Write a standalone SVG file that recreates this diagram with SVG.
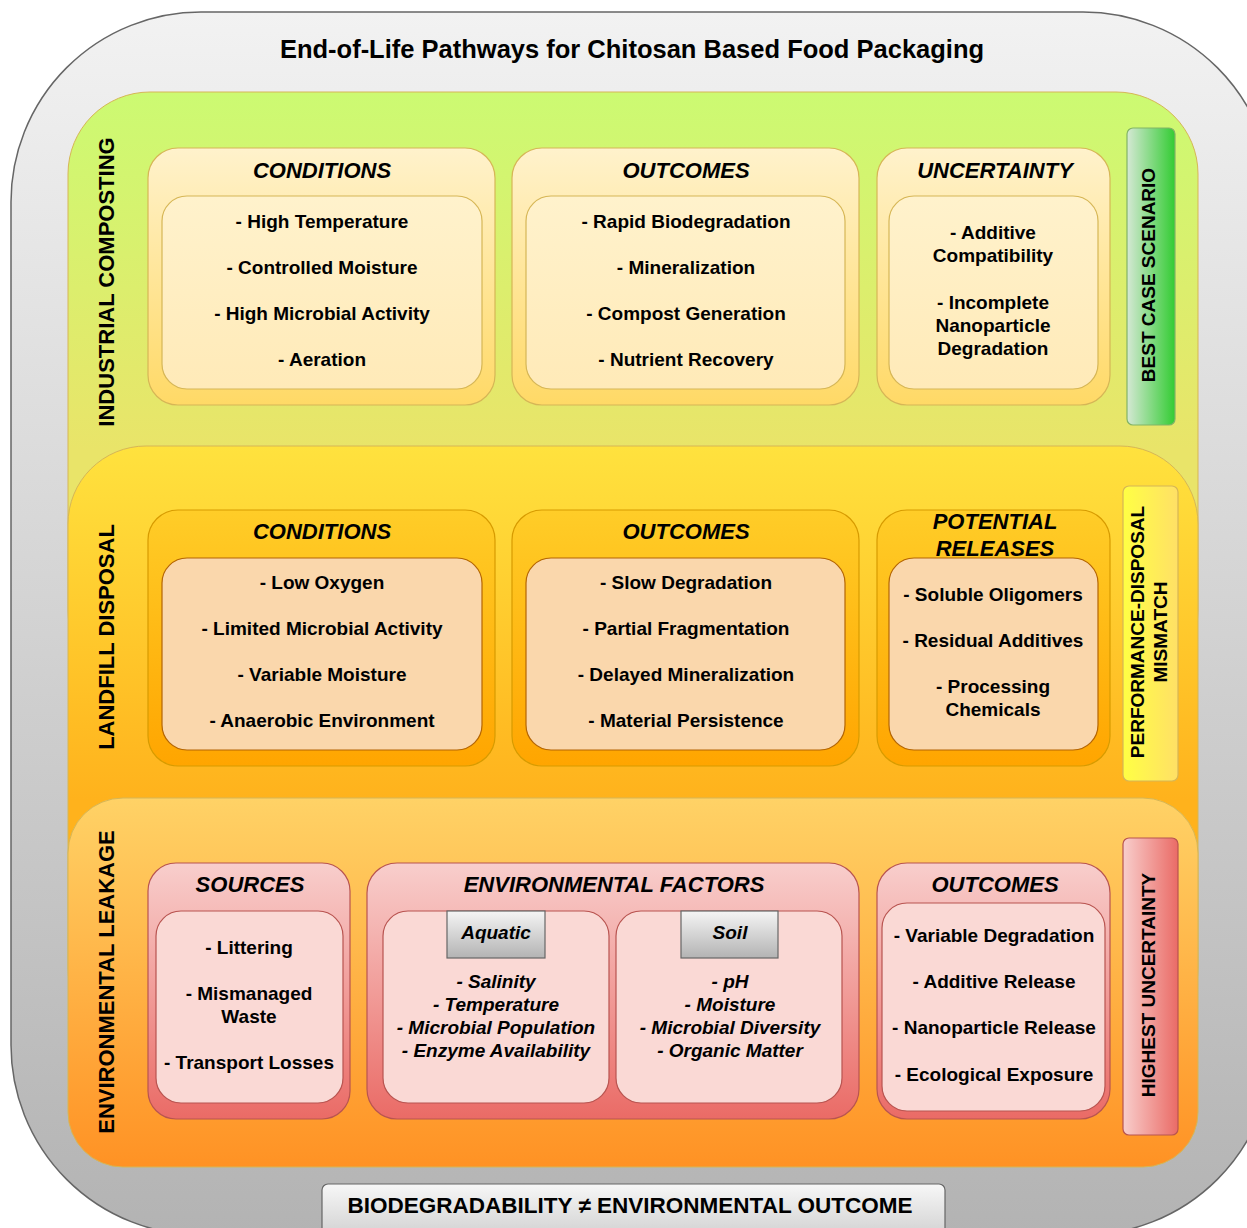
<svg xmlns="http://www.w3.org/2000/svg" width="1247" height="1228" viewBox="0 0 1247 1228">
<defs>
<linearGradient id="gBg" x1="0" y1="0" x2="0" y2="1"><stop offset="0" stop-color="#f2f2f2"/><stop offset="1" stop-color="#b3b3b3"/></linearGradient>
<linearGradient id="gGreen" gradientUnits="userSpaceOnUse" x1="0" y1="92" x2="0" y2="450"><stop offset="0" stop-color="#ccfa72"/><stop offset="1" stop-color="#e9e469"/></linearGradient>
<linearGradient id="gYellow" gradientUnits="userSpaceOnUse" x1="0" y1="446" x2="0" y2="800"><stop offset="0" stop-color="#ffe23e"/><stop offset="1" stop-color="#ffb21c"/></linearGradient>
<linearGradient id="gOrange" x1="0" y1="0" x2="0" y2="1"><stop offset="0" stop-color="#ffd266"/><stop offset="1" stop-color="#ff9224"/></linearGradient>
<linearGradient id="gPanelY" x1="0" y1="0" x2="0" y2="1"><stop offset="0" stop-color="#fff2cc"/><stop offset="1" stop-color="#ffd966"/></linearGradient>
<linearGradient id="gInnerY" x1="0" y1="0" x2="0" y2="1"><stop offset="0" stop-color="#fff2cc"/><stop offset="1" stop-color="#ffeab8"/></linearGradient>
<linearGradient id="gPanelO" x1="0" y1="0" x2="0" y2="1"><stop offset="0" stop-color="#ffcd28"/><stop offset="1" stop-color="#ffa500"/></linearGradient>
<linearGradient id="gPanelR" x1="0" y1="0" x2="0" y2="1"><stop offset="0" stop-color="#f8cecc"/><stop offset="1" stop-color="#ea6b66"/></linearGradient>
<linearGradient id="gGray" x1="0" y1="0" x2="0" y2="1"><stop offset="0" stop-color="#f5f5f5"/><stop offset="1" stop-color="#b3b3b3"/></linearGradient>
<linearGradient id="gBanner" x1="0" y1="0" x2="0" y2="1"><stop offset="0" stop-color="#f7f7f7"/><stop offset="1" stop-color="#cccccc"/></linearGradient>
<linearGradient id="gTabG" x1="0" y1="0" x2="1" y2="0"><stop offset="0" stop-color="#d5e8d4"/><stop offset="1" stop-color="#33cc33"/></linearGradient>
<linearGradient id="gTabY" x1="0" y1="0" x2="1" y2="0"><stop offset="0" stop-color="#ffff44"/><stop offset="1" stop-color="#ffe066"/></linearGradient>
<linearGradient id="gTabR" x1="0" y1="0" x2="1" y2="0"><stop offset="0" stop-color="#f8cecc"/><stop offset="1" stop-color="#ea6b66"/></linearGradient>
</defs>
<style>
text{font-family:"Liberation Sans",Arial,Helvetica,sans-serif;font-weight:bold;fill:#000;text-anchor:middle}
.title{font-size:25.5px}
.side{font-size:22px}
.tab{font-size:19px}
.ph{font-size:22px;font-style:italic}
.it{font-size:19px}
.iti{font-size:19px;font-style:italic}
.band{stroke:#d6b656;stroke-width:1}
.py{fill:url(#gPanelY);stroke:#d6b656;stroke-width:1.2}
.iy{fill:url(#gInnerY);stroke:#d6b656;stroke-width:1.2}
.po{fill:url(#gPanelO);stroke:#d79b00;stroke-width:1.2}
.io{fill:#fad7ac;stroke:#b46504;stroke-width:1.2}
.pr{fill:url(#gPanelR);stroke:#b85450;stroke-width:1.2}
.ir{fill:#fad9d5;stroke:#b85450;stroke-width:1.2}
.gt{fill:url(#gGray);stroke:#666666;stroke-width:1.2}
</style>

<g id="background">
<rect x="11" y="12" width="1262" height="1223" rx="190" ry="190" fill="url(#gBg)" stroke="#666666" stroke-width="1.5"/>
<text class="title" x="632" y="58">End-of-Life Pathways for Chitosan Based Food Packaging</text>
</g>

<g id="band-industrial">
<rect class="band" x="68" y="92" width="1130" height="600" rx="82" ry="82" fill="url(#gGreen)"/>
<text class="side" transform="translate(114,282) rotate(-90)">INDUSTRIAL COMPOSTING</text>
</g>
<g id="band-landfill">
<rect class="band" x="68" y="446" width="1130" height="600" rx="78" ry="78" fill="url(#gYellow)"/>
<text class="side" transform="translate(114,637) rotate(-90)">LANDFILL DISPOSAL</text>
</g>
<g id="band-leakage">
<rect class="band" x="68" y="798" width="1130" height="369" rx="55" ry="55" fill="url(#gOrange)"/>
<text class="side" transform="translate(114,982) rotate(-90)">ENVIRONMENTAL LEAKAGE</text>
</g>

<g id="ic-conditions">
<rect class="py" x="148" y="148" width="347" height="257" rx="30"/>
<rect class="iy" x="162" y="196" width="320" height="193" rx="25"/>
<text class="ph" x="322" y="178">CONDITIONS</text>
<text class="it" x="322" y="228">- High Temperature</text>
<text class="it" x="322" y="274">- Controlled Moisture</text>
<text class="it" x="322" y="320">- High Microbial Activity</text>
<text class="it" x="322" y="366">- Aeration</text>
</g>
<g id="ic-outcomes">
<rect class="py" x="512" y="148" width="347" height="257" rx="30"/>
<rect class="iy" x="526" y="196" width="319" height="193" rx="25"/>
<text class="ph" x="686" y="178">OUTCOMES</text>
<text class="it" x="686" y="228">- Rapid Biodegradation</text>
<text class="it" x="686" y="274">- Mineralization</text>
<text class="it" x="686" y="320">- Compost Generation</text>
<text class="it" x="686" y="366">- Nutrient Recovery</text>
</g>
<g id="ic-uncertainty">
<rect class="py" x="877" y="148" width="233" height="257" rx="30"/>
<rect class="iy" x="889" y="196" width="209" height="193" rx="25"/>
<text class="ph" x="995" y="178">UNCERTAINTY</text>
<text class="it" x="993" y="239">- Additive</text>
<text class="it" x="993" y="262">Compatibility</text>
<text class="it" x="993" y="309">- Incomplete</text>
<text class="it" x="993" y="332">Nanoparticle</text>
<text class="it" x="993" y="355">Degradation</text>
</g>

<g id="lf-conditions">
<rect class="po" x="148" y="510" width="347" height="256" rx="30"/>
<rect class="io" x="162" y="558" width="320" height="192" rx="25"/>
<text class="ph" x="322" y="539">CONDITIONS</text>
<text class="it" x="322" y="589">- Low Oxygen</text>
<text class="it" x="322" y="635">- Limited Microbial Activity</text>
<text class="it" x="322" y="681">- Variable Moisture</text>
<text class="it" x="322" y="727">- Anaerobic Environment</text>
</g>
<g id="lf-outcomes">
<rect class="po" x="512" y="510" width="347" height="256" rx="30"/>
<rect class="io" x="526" y="558" width="319" height="192" rx="25"/>
<text class="ph" x="686" y="539">OUTCOMES</text>
<text class="it" x="686" y="589">- Slow Degradation</text>
<text class="it" x="686" y="635">- Partial Fragmentation</text>
<text class="it" x="686" y="681">- Delayed Mineralization</text>
<text class="it" x="686" y="727">- Material Persistence</text>
</g>
<g id="lf-releases">
<rect class="po" x="877" y="510" width="233" height="256" rx="30"/>
<rect class="io" x="889" y="558" width="209" height="192" rx="25"/>
<text class="ph" x="995" y="529">POTENTIAL</text>
<text class="ph" x="995" y="556">RELEASES</text>
<text class="it" x="993" y="601">- Soluble Oligomers</text>
<text class="it" x="993" y="647">- Residual Additives</text>
<text class="it" x="993" y="693">- Processing</text>
<text class="it" x="993" y="716">Chemicals</text>
</g>

<g id="el-sources">
<rect class="pr" x="148" y="863" width="202" height="256" rx="28"/>
<rect class="ir" x="156" y="911" width="187" height="192" rx="25"/>
<text class="ph" x="250" y="892">SOURCES</text>
<text class="it" x="249" y="954">- Littering</text>
<text class="it" x="249" y="1000">- Mismanaged</text>
<text class="it" x="249" y="1023">Waste</text>
<text class="it" x="249" y="1069">- Transport Losses</text>
</g>
<g id="el-factors">
<rect class="pr" x="367" y="863" width="492" height="256" rx="30"/>
<text class="ph" x="614" y="892">ENVIRONMENTAL FACTORS</text>
<g id="el-aquatic">
<rect class="ir" x="383" y="911" width="226" height="192" rx="25"/>
<rect class="gt" x="447" y="911" width="98" height="47"/>
<text class="iti" x="496" y="939">Aquatic</text>
<text class="iti" x="496" y="988">- Salinity</text>
<text class="iti" x="496" y="1011">- Temperature</text>
<text class="iti" x="496" y="1034">- Microbial Population</text>
<text class="iti" x="496" y="1057">- Enzyme Availability</text>
</g>
<g id="el-soil">
<rect class="ir" x="616" y="911" width="226" height="192" rx="25"/>
<rect class="gt" x="681" y="911" width="97" height="47"/>
<text class="iti" x="730" y="939">Soil</text>
<text class="iti" x="730" y="988">- pH</text>
<text class="iti" x="730" y="1011">- Moisture</text>
<text class="iti" x="730" y="1034">- Microbial Diversity</text>
<text class="iti" x="730" y="1057">- Organic Matter</text>
</g>
</g>
<g id="el-outcomes">
<rect class="pr" x="877" y="863" width="233" height="256" rx="30"/>
<rect class="ir" x="882" y="903" width="223" height="208" rx="25"/>
<text class="ph" x="995" y="892">OUTCOMES</text>
<text class="it" x="994" y="942">- Variable Degradation</text>
<text class="it" x="994" y="988">- Additive Release</text>
<text class="it" x="994" y="1034">- Nanoparticle Release</text>
<text class="it" x="994" y="1081">- Ecological Exposure</text>
</g>

<g id="tag-best">
<rect x="1127" y="128" width="48" height="297" rx="6" fill="url(#gTabG)" stroke="#82b366" stroke-width="1.2"/>
<text class="tab" transform="translate(1155,275) rotate(-90)">BEST CASE SCENARIO</text>
</g>
<g id="tag-mismatch">
<rect x="1123" y="486" width="55" height="295" rx="6" fill="url(#gTabY)" stroke="#d6b656" stroke-width="1.2"/>
<text class="tab" transform="translate(1144,632) rotate(-90)">PERFORMANCE-DISPOSAL</text>
<text class="tab" transform="translate(1167,632) rotate(-90)">MISMATCH</text>
</g>
<g id="tag-uncertainty">
<rect x="1123" y="838" width="55" height="297" rx="6" fill="url(#gTabR)" stroke="#b85450" stroke-width="1.2"/>
<text class="tab" transform="translate(1155,985) rotate(-90)">HIGHEST UNCERTAINTY</text>
</g>

<g id="banner">
<rect x="322" y="1184" width="623" height="60" rx="6" fill="url(#gBanner)" stroke="#666666" stroke-width="1.2"/>
<text x="630" y="1213" font-size="22" textLength="565" lengthAdjust="spacingAndGlyphs">BIODEGRADABILITY ≠ ENVIRONMENTAL OUTCOME</text>
</g>

<g id="connectors"></g>
</svg>
